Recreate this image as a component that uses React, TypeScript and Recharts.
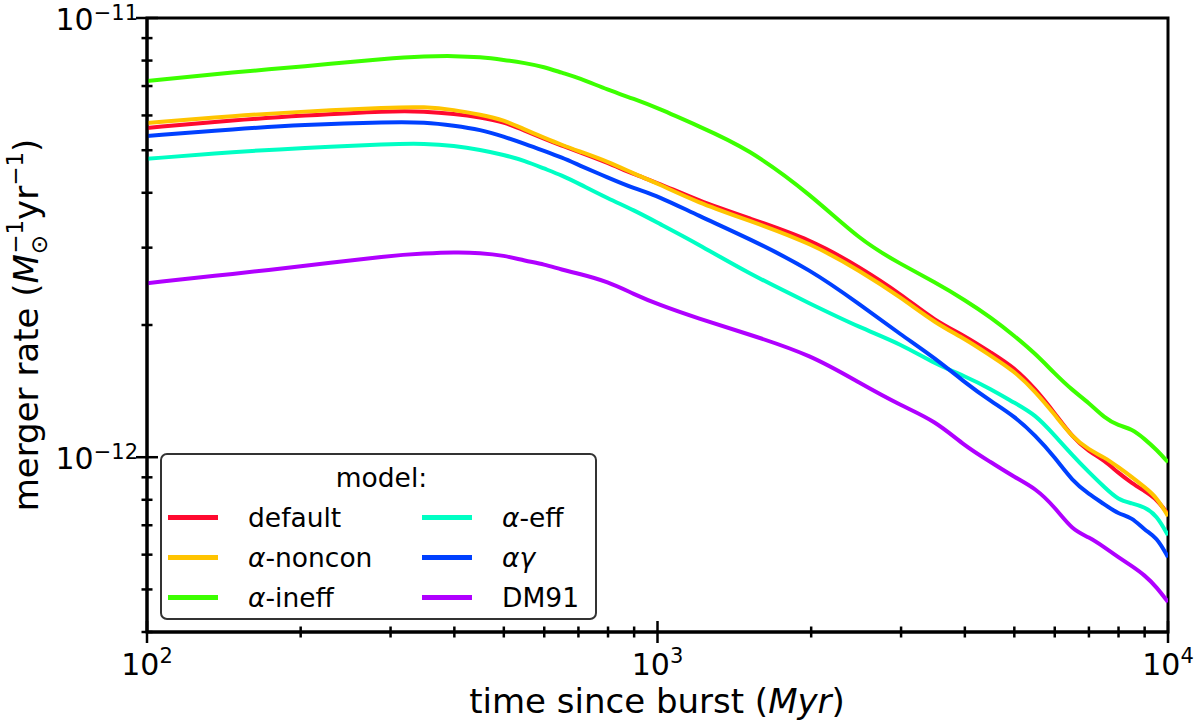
import { LineChart, Line, XAxis, YAxis, ReferenceArea, Legend } from 'recharts';

// time since burst (Myr)
const times = [100, 150, 200, 300, 350, 400, 450, 500, 550, 600, 650, 700, 800, 900, 1000, 1200, 1500, 2000, 2500, 3000, 3500, 4000, 4500, 5000, 5500, 6000, 6500, 7000, 7500, 8000, 8500, 9000, 9500, 10000];

// merger rates, in units of 1e-12 Msun^-1 yr^-1
const defaultRate = [5.62, 5.86, 5.99, 6.15, 6.13, 6.05, 5.94, 5.80, 5.54, 5.31, 5.12, 4.96, 4.68, 4.40, 4.22, 3.84, 3.51, 3.13, 2.70, 2.35, 2.04, 1.89, 1.73, 1.60, 1.43, 1.26, 1.11, 1.03, 0.984, 0.920, 0.873, 0.837, 0.803, 0.742];
const nonconRate = [5.77, 5.99, 6.12, 6.26, 6.28, 6.18, 6.02, 5.86, 5.57, 5.34, 5.14, 4.98, 4.71, 4.42, 4.20, 3.80, 3.47, 3.07, 2.65, 2.31, 2.02, 1.86, 1.70, 1.57, 1.41, 1.25, 1.11, 1.04, 1.00, 0.949, 0.901, 0.855, 0.811, 0.734];
const ineffRate = [7.19, 7.54, 7.74, 8.11, 8.18, 8.20, 8.15, 8.03, 7.90, 7.74, 7.50, 7.31, 6.86, 6.54, 6.24, 5.68, 5.06, 3.96, 3.11, 2.75, 2.50, 2.28, 2.08, 1.89, 1.72, 1.55, 1.42, 1.33, 1.23, 1.18, 1.16, 1.10, 1.04, 0.974];
const effRate = [4.78, 4.96, 5.06, 5.17, 5.18, 5.12, 5.01, 4.88, 4.73, 4.54, 4.38, 4.20, 3.88, 3.65, 3.42, 3.06, 2.63, 2.23, 1.97, 1.81, 1.63, 1.53, 1.43, 1.33, 1.25, 1.12, 1.01, 0.924, 0.855, 0.798, 0.786, 0.770, 0.738, 0.664];
const agRate = [5.39, 5.59, 5.71, 5.80, 5.79, 5.69, 5.57, 5.37, 5.17, 4.98, 4.81, 4.63, 4.33, 4.09, 3.94, 3.55, 3.16, 2.67, 2.22, 1.90, 1.68, 1.48, 1.34, 1.24, 1.12, 1.00, 0.882, 0.824, 0.782, 0.742, 0.730, 0.682, 0.658, 0.592];
const dm91Rate = [2.49, 2.62, 2.72, 2.88, 2.91, 2.93, 2.92, 2.88, 2.80, 2.75, 2.67, 2.62, 2.51, 2.35, 2.23, 2.07, 1.91, 1.71, 1.47, 1.31, 1.21, 1.06, 0.974, 0.901, 0.850, 0.770, 0.682, 0.658, 0.624, 0.592, 0.565, 0.539, 0.506, 0.468];

const xTicks = [100, 200, 300, 400, 500, 600, 700, 800, 900, 1000, 2000, 3000, 4000, 5000, 6000, 7000, 8000, 9000, 10000];
const yTicks = [4e-13, 5e-13, 6e-13, 7e-13, 8e-13, 9e-13, 1e-12, 2e-12, 3e-12, 4e-12, 5e-12, 6e-12, 7e-12, 8e-12, 9e-12, 1e-11];

const series = [
  { key: 'def', name: 'default', color: '#ff0a2f', values: defaultRate },
  { key: 'noncon', name: 'α-noncon', color: '#ffc400', values: nonconRate },
  { key: 'ineff', name: 'α-ineff', color: '#3cff00', values: ineffRate },
  { key: 'eff', name: 'α-eff', color: '#00ffc4', values: effRate },
  { key: 'ag', name: 'αγ', color: '#0040ff', values: agRate },
  { key: 'dm91', name: 'DM91', color: '#b000ff', values: dm91Rate },
];

const data = times.map((t, i) => {
  const row: Record<string, number> = { t };
  series.forEach(s => { row[s.key] = s.values[i] * 1e-12; });
  return row;
});

const FONT = '"DejaVu Sans", sans-serif';

function isMajor(v: number) {
  const l = Math.log10(v);
  return Math.abs(l - Math.round(l)) < 1e-6;
}

function XTick(props: any) {
  const { x, y, payload } = props;
  const major = isMajor(payload.value);
  const len = major ? 11 : 5.5;
  return (
    <g>
      <line x1={x} x2={x} y1={y - len} y2={y + len} stroke="#000" strokeWidth={2.5} />
      {major && (
        <text x={x} y={y + 43} textAnchor="middle" fontSize={30} fontFamily={FONT} fill="#000">
          10<tspan dy={-12} fontSize={21}>{Math.round(Math.log10(payload.value))}</tspan>
        </text>
      )}
    </g>
  );
}

function YTick(props: any) {
  const { x, y, payload } = props;
  const major = isMajor(payload.value);
  const len = major ? 11 : 5.5;
  return (
    <g>
      <line x1={x - len} x2={x + len} y1={y} y2={y} stroke="#000" strokeWidth={2.5} />
      {major && (
        <text x={x - 9} y={y + 12} textAnchor="end" fontSize={30} fontFamily={FONT} fill="#000">
          10<tspan dy={-10} fontSize={21}>{'\u2212' + Math.abs(Math.round(Math.log10(payload.value)))}</tspan>
        </text>
      )}
    </g>
  );
}

const xLabel = () => (
  <text x={657} y={713} textAnchor="middle" fontSize={34} fontFamily={FONT} fill="#000">
    time since burst (<tspan fontStyle="italic">Myr</tspan>)
  </text>
);

const yLabel = () => (
  <text x={0} y={0} transform="translate(38,325) rotate(-90)" textAnchor="middle" fontSize={34} fontFamily={FONT} fill="#000">
    merger rate (<tspan fontStyle="italic">M</tspan>
    <tspan dy={9} fontSize={23}>⊙</tspan>
    <tspan dx={-19} dy={-24} fontSize={23}>−1</tspan>
    <tspan dy={15}>yr</tspan>
    <tspan dy={-15} fontSize={23}>−1</tspan>
    <tspan dy={15}>)</tspan>
  </text>
);

function LegendBox() {
  const item = (s: typeof series[number]) => (
    <div key={s.key} style={{ display: 'flex', alignItems: 'center', height: 40 }}>
      <div style={{ width: 50, height: 5, background: s.color, marginRight: 30 }} />
      <span>
        {s.name === 'αγ' ? <i>αγ</i> : s.name.startsWith('α') ? <><i>α</i>{s.name.slice(1)}</> : s.name}
      </span>
    </div>
  );
  return (
    <div style={{
      width: 437, height: 167, boxSizing: 'border-box', border: '2.5px solid #333', borderRadius: 7,
      background: 'rgba(255,255,255,0.85)', fontFamily: FONT, fontSize: 26.5, color: '#000', padding: '4px 0 0 6px',
    }}>
      <div style={{ textAlign: 'center', height: 38, lineHeight: '38px' }}>model:</div>
      <div style={{ display: 'flex' }}>
        <div style={{ width: 254 }}>{series.slice(0, 3).map(item)}</div>
        <div>{series.slice(3).map(item)}</div>
      </div>
    </div>
  );
}

export default function App() {
  return (
    <div style={{ position: 'absolute', left: 0, top: 0, width: 1200, height: 725, background: '#fff' }}>
      <LineChart width={1200} height={725} data={data} margin={{ top: 18, right: 32, left: 0, bottom: 0 }}>
        <XAxis
          dataKey="t" type="number" scale="log" domain={[100, 10000]} allowDataOverflow
          ticks={xTicks} interval={0} tickSize={0} tickMargin={0} tickLine={false}
          axisLine={{ stroke: '#000', strokeWidth: 3 }} height={93} tick={<XTick />} label={xLabel}
        />
        <YAxis
          type="number" scale="log" domain={[4e-13, 1e-11]} allowDataOverflow
          ticks={yTicks} interval={0} tickSize={0} tickMargin={0} tickLine={false}
          axisLine={{ stroke: '#000', strokeWidth: 3 }} width={147} tick={<YTick />} label={yLabel}
        />
        <ReferenceArea x1={100} x2={10000} y1={4e-13} y2={1e-11} fill="none" stroke="#000" strokeWidth={3} />
        {series.map(s => (
          <Line
            key={s.key} dataKey={s.key} name={s.name} type="basis" stroke={s.color}
            strokeWidth={4} dot={false} isAnimationActive={false}
          />
        ))}
        <Legend
          layout="vertical" align="center" verticalAlign="middle"
          wrapperStyle={{ left: 160, top: 453, width: 437 }}
          content={() => <LegendBox />}
        />
      </LineChart>
    </div>
  );
}
